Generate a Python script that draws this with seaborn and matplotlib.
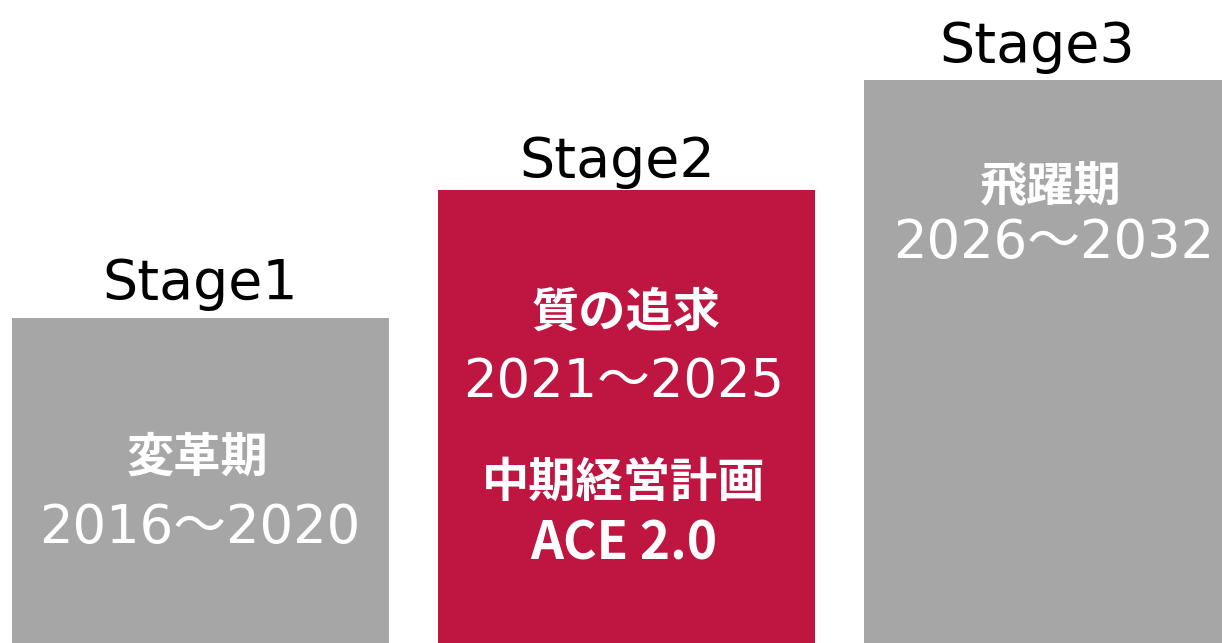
import matplotlib
matplotlib.use("Agg")
import matplotlib.pyplot as plt
import seaborn as sns
import pandas as pd

# ---- data ----
stages = ["Stage1", "Stage2", "Stage3"]
heights = [325, 453, 563]
periods = ["変革期", "質の追求", "飛躍期"]
years = ["2016～2020", "2021～2025", "2026～2032"]
plan_name = "中期経営計画"
plan_code = "ACE 2.0"
bar_colors = ["#A6A6A6", "#BE1541", "#A6A6A6"]

plt.rcParams["font.family"] = ["Noto Sans CJK JP", "DejaVu Sans"]
latin_first = ["DejaVu Sans", "Noto Sans CJK JP"]
cjk_first = ["Noto Sans CJK JP", "DejaVu Sans"]

df = pd.DataFrame({"stage": stages, "height": heights})

fig = plt.figure(figsize=(12.22, 6.43), dpi=100)
ax = fig.add_axes([0, 0, 1, 1])
sns.barplot(data=df, x="stage", y="height", hue="stage", palette=bar_colors,
            width=0.885, saturation=1, legend=False, ax=ax, linewidth=0)
ax.set_xlim(-0.4695, 2.399)
ax.set_ylim(0, 643)
ax.set_axis_off()

# stage labels above bars
stage_dx = [0.0, -0.02, -0.035]
stage_off = [19, 13, 18]
for i, (s, h) in enumerate(zip(stages, heights)):
    ax.text(i + stage_dx[i], h + stage_off[i], s, ha="center", va="baseline",
            fontsize=40, color="black", family=latin_first)

# inner labels
period_pos = [(-0.005, 171), (1.0, 316), (1.998, 441)]
year_pos = [(0.0, 100), (0.995, 246), (2.005, 385)]
for i in range(3):
    px, py = period_pos[i]
    ax.text(px, py, periods[i], ha="center", va="baseline", fontsize=34,
            fontweight="bold", color="white", family=cjk_first)
    yx, yy = year_pos[i]
    ax.text(yx, yy, years[i], ha="center", va="baseline", fontsize=38,
            color="white", family=latin_first)

ax.text(0.995, 146, plan_name, ha="center", va="baseline", fontsize=34,
        fontweight="bold", color="white", family=cjk_first)
ax.text(0.995, 83, plan_code, ha="center", va="baseline", fontsize=37,
        fontweight="bold", color="white", family=cjk_first)

fig.savefig("out.png", dpi=100)
